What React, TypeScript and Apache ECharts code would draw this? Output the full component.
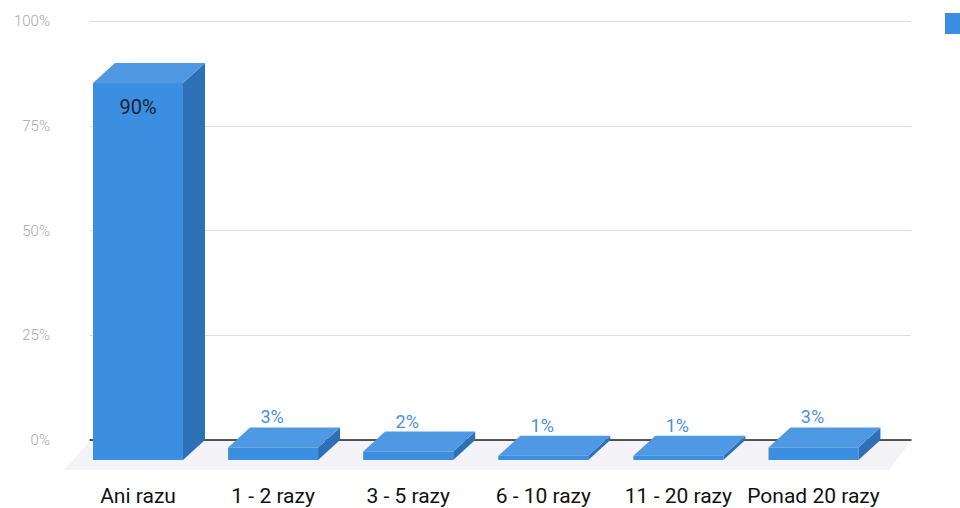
import React, { useEffect, useRef } from "react";
import * as echarts from "echarts";

const categories = ["Ani razu", "1 - 2 razy", "3 - 5 razy", "6 - 10 razy", "11 - 20 razy", "Ponad 20 razy"];
const values = [90, 3, 2, 1, 1, 3];
const yTicks = [0, 25, 50, 75, 100];

const FRONT = "#3b8ee0";
const TOP = "#4f98e3";
const SIDE = "#2d70b6";
const DX = -22;
const DY = 20;
const HALF = 0.333;
const X_MIN = -0.518;
const X_MAX = 5.559;

export default function App() {
  const ref = useRef<HTMLDivElement>(null);
  useEffect(() => {
    const chart = echarts.init(ref.current!, null, { renderer: "svg" });
    const data = categories.map((c, i) => [i, values[i]]);
    chart.setOption({
      animation: false,
      textStyle: { fontFamily: "Roboto, sans-serif" },
      legend: {
        left: 940,
        top: 8,
        itemWidth: 22,
        itemHeight: 21,
        icon: "rect",
        data: [{ name: "Odpowiedzi" }],
        formatter: () => "",
        selectedMode: false,
      },
      grid: [
        { left: 90, right: 49, top: 21, bottom: 68 },
        { left: 70.5, right: 79, top: 440, height: 21 },
      ],
      xAxis: [
        {
          type: "value",
          gridIndex: 0,
          min: X_MIN,
          max: X_MAX,
          axisLine: { show: true, onZero: true, lineStyle: { color: "#222", width: 1.5 } },
          axisTick: { show: false },
          axisLabel: { show: false },
          splitLine: { show: false },
        },
        {
          type: "category",
          gridIndex: 1,
          data: categories,
          axisLine: { show: false },
          axisTick: { show: false },
          axisLabel: {
            interval: 0,
            margin: 24,
            fontSize: 21,
            fontWeight: "normal",
            color: "#111111",
            fontFamily: "Roboto, sans-serif",
          },
        },
      ],
      yAxis: [
        {
          type: "value",
          gridIndex: 0,
          min: 0,
          max: 100,
          interval: 25,
          axisLine: { show: false },
          axisTick: { show: false },
          axisLabel: {
            margin: 40,
            fontSize: 15,
            fontWeight: 300,
            color: "#a8a8a8",
            formatter: (v: number) => (yTicks.includes(v) ? `${v}%` : ""),
          },
          splitLine: { lineStyle: { color: "#dedede", width: 1 } },
        },
        { type: "value", gridIndex: 1, show: false },
      ],
      series: [
        {
          type: "custom",
          name: "floor",
          xAxisIndex: 0,
          yAxisIndex: 0,
          silent: true,
          z: 1,
          data: [[X_MIN, 0]],
          renderItem: (params: any, api: any) => {
            const a = api.coord([X_MIN, 0]);
            const b = api.coord([X_MAX, 0]);
            return {
              type: "polygon",
              shape: {
                points: [
                  [a[0], a[1] + 1],
                  [b[0], b[1] + 1],
                  [b[0] + DX, b[1] + DY + 10],
                  [a[0] + DX - 4, a[1] + DY + 10],
                ],
              },
              style: { fill: "#f4f3f8" },
            };
          },
        },
        {
          type: "custom",
          name: "Odpowiedzi",
          xAxisIndex: 0,
          yAxisIndex: 0,
          z: 3,
          itemStyle: { color: FRONT },
          data,
          renderItem: (params: any, api: any) => {
            const i = api.value(0);
            const v = api.value(1);
            const bl = api.coord([i - HALF, 0]);
            const tr = api.coord([i + HALF, v]);
            const x0 = bl[0], x1 = tr[0], yb = bl[1], yt = tr[1];
            const fx0 = x0 + DX, fx1 = x1 + DX, fyt = yt + DY, fyb = yb + DY;
            const inside = v > 50;
            return {
              type: "group",
              children: [
                {
                  type: "polygon",
                  shape: { points: [[fx1, fyt], [x1, yt], [x1, yb], [fx1, fyb]] },
                  style: { fill: SIDE },
                },
                {
                  type: "polygon",
                  shape: { points: [[fx0, fyt], [x0, yt], [x1, yt], [fx1, fyt]] },
                  style: { fill: TOP },
                },
                {
                  type: "rect",
                  shape: { x: fx0, y: fyt, width: fx1 - fx0, height: Math.max(fyb - fyt, 0) },
                  style: { fill: FRONT },
                },
                {
                  type: "text",
                  style: {
                    text: `${v}%`,
                    x: (fx0 + fx1) / 2 - (inside ? 0 : 1),
                    y: inside ? fyt + 24 : yt - 10.5,
                    align: "center",
                    verticalAlign: "middle",
                    fontSize: inside ? 20 : 18,
                    fontFamily: "Roboto, sans-serif",
                    fill: inside ? "#1b2430" : "#4a90e2",
                  },
                },
              ],
            };
          },
        },
      ],
    });
    return () => chart.dispose();
  }, []);
  return (
    <div
      ref={ref}
      style={{ position: "fixed", left: 0, top: 0, width: 960, height: 508, background: "#fff" }}
    />
  );
}
